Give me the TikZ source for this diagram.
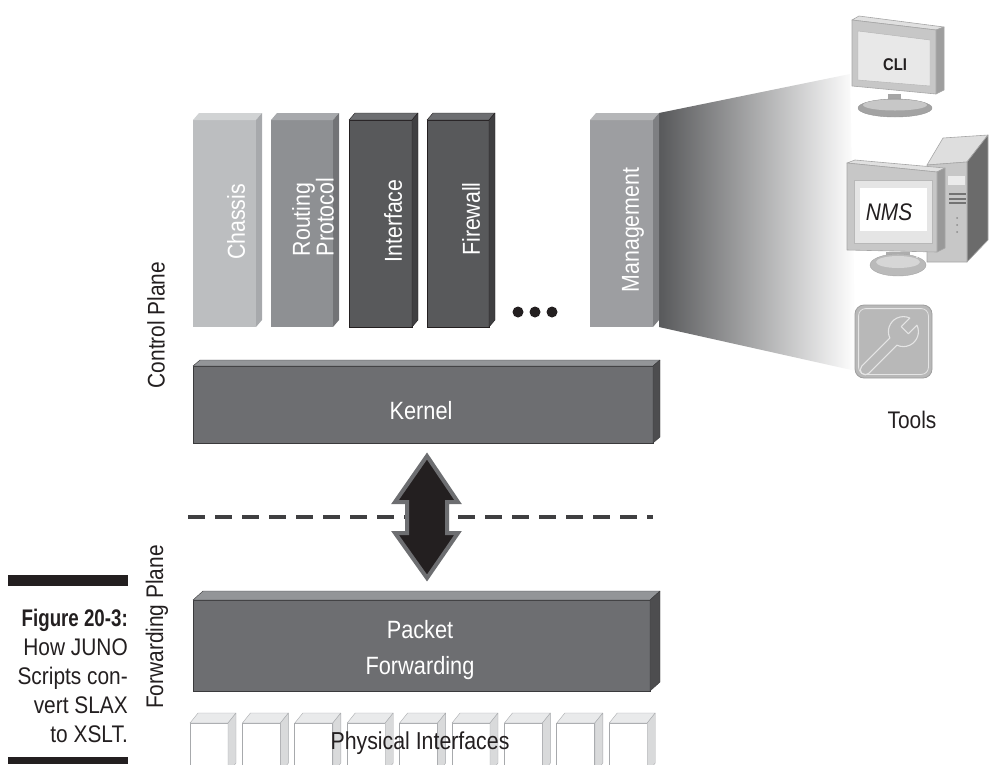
\documentclass[tikz,border=0pt]{standalone}
\usepackage{fontspec}
\setmainfont{Liberation Sans}[FakeStretch=0.87]
\newfontfamily\captionbold{Liberation Sans}[FakeStretch=0.78]
\usetikzlibrary{calc}

\definecolor{ink}{HTML}{231F20}
\definecolor{chassisF}{HTML}{BCBEC0}
\definecolor{chassisT}{HTML}{D1D3D4}
\definecolor{chassisS}{HTML}{A7A9AC}
\definecolor{routingF}{HTML}{8E9093}
\definecolor{routingT}{HTML}{A7A9AC}
\definecolor{routingS}{HTML}{727376}
\definecolor{darkF}{HTML}{58595B}
\definecolor{darkT}{HTML}{6D6E71}
\definecolor{darkS}{HTML}{3F3F41}
\definecolor{mgmtF}{HTML}{9D9EA1}
\definecolor{mgmtT}{HTML}{B5B6B8}
\definecolor{mgmtS}{HTML}{7E7F82}
\definecolor{slabF}{HTML}{6D6E71}
\definecolor{slabT}{HTML}{939598}
\definecolor{slabS}{HTML}{4D4D4F}
\definecolor{slabE}{HTML}{3A3A3C}
\definecolor{portF}{HTML}{FFFFFF}
\definecolor{portT}{HTML}{E9EAEB}
\definecolor{portS}{HTML}{D9DADB}
\definecolor{portE}{HTML}{A7A9AC}
\definecolor{beam}{HTML}{58595B}
\definecolor{dashgray}{HTML}{3F3F41}
\definecolor{arrowedge}{HTML}{6D6E71}

% 3D block: the front face is a named node, top and side faces hang on its corners
% #1 name, #2 left, #3 top, #4 width, #5 height, #6 depth x, #7 depth y,
% #8 colour prefix (F/T/S suffixes), #9 edge colour
\newcommand\boxthree[9]{%
  \node[front, fill=#8F, draw=#9, minimum width=#4pt, minimum height=#5pt] (#1) at (#2,#3) {};
  \filldraw[fill=#8T, draw=#9, line join=round]
    (#1.north west) -- ++(#6,-#7) -- ++(#4,0) -- (#1.north east) -- cycle;
  \filldraw[fill=#8S, draw=#9, line join=round]
    (#1.north east) -- ++(#6,-#7) -- ++(0,#5) -- (#1.south east) -- cycle;
}

\begin{document}
\begin{tikzpicture}[x=1pt, y=-1pt,
  front/.style={rectangle, inner sep=0pt, outer sep=0pt, anchor=north west, line width=0.8pt},
  bartext/.style={text=white, font=\fontsize{24.5}{22}\selectfont, rotate=90, inner sep=0pt},
  slabtext/.style={text=white, font=\fontsize{25}{36}\selectfont, align=center, inner sep=0pt},
  plane/.style={text=ink, font=\fontsize{24}{28}\selectfont, rotate=90, inner sep=0pt},
  captext/.style={text=ink, font=\fontsize{24}{29}\selectfont, anchor=base east, inner sep=0pt},
  dot/.style={circle, fill=ink, minimum size=11pt, inner sep=0pt},
  sep/.style={draw=dashgray, line width=4pt, dash pattern=on 17pt off 10pt},
  bigarrow/.style={fill=ink, draw=arrowedge, line width=4pt, line join=miter},
  iconedge/.style={draw=black!35, line width=0.6pt, line join=round}
]
\useasboundingbox (0,0) rectangle (990,764);

% light beam from the management block towards the tools
\shade[left color=beam, right color=white]
  (659,113) -- (850,74) -- (856,371) -- (659,327) -- cycle;

% control plane daemons
\boxthree{chassis}{193}{120}{63}{207}{6}{7}{chassis}{none}
\boxthree{routing}{271}{120}{62}{207}{6}{7}{routing}{none}
\boxthree{interface}{349}{120}{63}{207}{6}{7}{dark}{ink}
\boxthree{firewall}{427}{120}{62}{207}{6}{7}{dark}{ink}
\boxthree{management}{590}{120}{63}{207}{6}{7}{mgmt}{none}

\node[bartext] (chassislbl) at (236,222) {Chassis};
\node[bartext, align=left] (routinglbl) at (313,217) {Routing\\Protocol};
\node[bartext] (interfacelbl) at (393,221) {Interface};
\node[bartext] (firewalllbl) at (471,219) {Firewall};
\node[bartext] (managementlbl) at (633,230) {Management};

\node[dot] (dota) at (518,312) {};
\node[dot] (dotb) at (535,312) {};
\node[dot] (dotc) at (552,312) {};

% kernel
\boxthree{kernel}{193}{366}{460}{77}{7}{6}{slab}{slabE}
\node[slabtext] (kernellbl) at (421,411) {Kernel};

% plane separator
\coordinate (sepL) at (188,517);
\coordinate (sepR) at (653,517);
\draw[sep] (sepL) -- (sepR);

% packet forwarding engine
\boxthree{pfe}{193}{600}{457}{91}{10}{9}{slab}{slabE}
\node[slabtext] (pfelbl) at (420,650) {Packet\\Forwarding};

% two-way link between kernel and packet forwarding
\draw[bigarrow] ($(kernel.south)+(4,13)$) -- ++(31,46) -- ++(-11,0) -- ++(0,31)
  -- ++(11,0) -- ++(-31,45) -- ++(-32,-45) -- ++(12,0) -- ++(0,-31)
  -- ++(-12,0) -- cycle;

% physical interface ports
\begin{scope}
  \clip (0,0) rectangle (990,764);
  \foreach \i in {0,...,8} {
    \boxthree{port\i}{190+52.4*\i}{723}{38}{50}{8}{10}{port}{portE}
  }
\end{scope}
\node[text=ink, font=\fontsize{24.5}{28}\selectfont, inner sep=0pt] (phys) at (420,743) {Physical Interfaces};

% plane labels
\node[plane] (ctrlplane) at (156,325) {Control Plane};
\node[plane] (fwdplane) at (157,627) {Forwarding Plane};

% figure caption
\fill[ink] (8,575) rectangle (128,586);
\fill[ink] (8,757) rectangle (128,764);
\node[captext] (cap1) at (128,626) {\captionbold\bfseries Figure 20-3:};
\node[captext] (cap2) at (128,655) {How JUNO};
\node[captext] (cap3) at (128,684) {Scripts con-};
\node[captext] (cap4) at (128,713) {vert SLAX};
\node[captext] (cap5) at (128,742) {to XSLT.};

% CLI terminal
\filldraw[fill=black!12, iconedge] (852,20) -- (859,16) -- (944,27) -- (936,30) -- cycle;
\filldraw[fill=black!38, iconedge] (936,30) -- (944,27) -- (944,90) -- (936,94) -- cycle;
\filldraw[fill=black!22, iconedge] (852,20) -- (936,30) -- (936,94) -- (852,86) -- cycle;
\filldraw[fill=black!9, draw=black!30] (858,31) -- (930,40) -- (930,86) -- (858,80) -- cycle;
\fill[black!35] (888,94) rectangle (901,101);
\filldraw[fill=black!36, draw=black!42] (895,108) ellipse [x radius=37, y radius=9];
\fill[black!22] (895,105) ellipse [x radius=32, y radius=5.5];
\foreach \k in {0,1,2} \fill[white] (911+4*\k,97) circle (0.9pt);
\node[font=\fontsize{17}{17}\selectfont\bfseries, text=ink, inner sep=0pt] (cli) at (895,65) {CLI};

% NMS workstation: tower
\filldraw[fill=black!13, iconedge] (927,165) -- (943,138) -- (988,135) -- (967,162) -- cycle;
\filldraw[fill=black!58, iconedge] (967,162) -- (988,135) -- (988,240) -- (967,262) -- cycle;
\filldraw[fill=black!22, iconedge] (927,165) -- (967,162) -- (967,262) -- (927,262) -- cycle;
\fill[black!8] (948,176) rectangle (965,185);
\foreach \k in {0,1,2} \fill[black!55] (949,193+4.5*\k) rectangle (966,195+4.5*\k);
\foreach \k in {0,1,2} \fill[black!45] (957,218+7*\k) circle (1pt);
% NMS workstation: monitor
\filldraw[fill=black!12, iconedge] (847,163) -- (855,160) -- (945,168) -- (937,172) -- cycle;
\filldraw[fill=black!40, iconedge] (937,172) -- (945,168) -- (945,248) -- (937,252) -- cycle;
\filldraw[fill=black!22, iconedge] (847,163) -- (937,172) -- (937,252) -- (847,250) -- cycle;
\filldraw[fill=black!10, draw=black!28] (854,180) rectangle (932,243);
\fill[white] (860,188) rectangle (927,231);
\fill[black!32] (886,252) rectangle (910,258);
\filldraw[fill=black!27, draw=black!35] (898,265) ellipse [x radius=28, y radius=11];
\fill[black!16] (898,262) ellipse [x radius=22, y radius=6];
\foreach \k in {0,1,2} \fill[white] (917+4*\k,257) circle (0.9pt);
\node[font=\fontsize{24}{24}\selectfont\itshape, text=ink, inner sep=0pt] (nms) at (889,212) {NMS};

% tools icon
\node[rectangle, rounded corners=9pt, fill=black!28, draw=black!38, line width=0.8pt,
      minimum width=77pt, minimum height=73pt, inner sep=0pt] (toolbox) at (893.5,341.5) {};
\draw[black!10, line width=0.8pt, rounded corners=7pt]
  ($(toolbox.north west)+(4,4)$) rectangle ($(toolbox.south east)+(-4,-4)$);
\begin{scope}[shift={(toolbox.center)}, rotate=45]
  \draw[white!90!black, line width=1.1pt, line join=round]
    (-40,-5) -- (-0.14,-5) arc[start angle=199.47, end angle=340.53, radius=15]
    -- (16,-5) -- (16,5) -- (28.14,5) arc[start angle=19.47, end angle=160.53, radius=15]
    -- (-40,5) arc[start angle=90, end angle=270, radius=5] -- cycle;
\end{scope}
\node[text=ink, font=\fontsize{24}{28}\selectfont, inner sep=0pt] (tools) at (912,420) {Tools};

\end{tikzpicture}
\end{document}
